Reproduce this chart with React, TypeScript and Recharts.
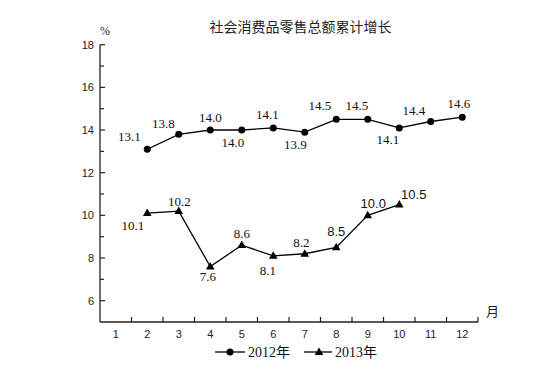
// 社会消费品零售总额累计增长 - line chart, 2012 vs 2013

import { LineChart, Line, XAxis, YAxis } from 'recharts';

const months = [1, 2, 3, 4, 5, 6, 7, 8, 9, 10, 11, 12];
// values per month, null where there is no point
const values2012 = [null, 13.1, 13.8, 14.0, 14.0, 14.1, 13.9, 14.5, 14.5, 14.1, 14.4, 14.6];
const values2013 = [null, 10.1, 10.2, 7.6, 8.6, 8.1, 8.2, 8.5, 10.0, 10.5, null, null];
const yTicks = [5, 6, 7, 8, 9, 10, 11, 12, 13, 14, 15, 16, 17, 18];
const yLabels = [6, 8, 10, 12, 14, 16, 18];

const title = '社会消费品零售总额累计增长';
const seriesNames = ['2012年', '2013年'];

// label placement offsets (dx, dy) per month, styling only
const offsets2012: Array<[number, number]> = [
  [0, 0], [-18, -13], [-15.5, -11], [0, -13], [-9, 12.5], [-6, -13],
  [-9.5, 12.5], [-16.5, -13.5], [-11, -13.5], [-11.5, 12], [-17, -11], [-3.5, -13.5],
];
const offsets2013: Array<[number, number]> = [
  [0, 0], [-14.5, 12], [0.5, -10], [-2.5, 9.5], [0, -12], [-5.5, 14.5],
  [-3.5, -11], [0, -15.5], [5.5, -11.5], [14.5, -10], [0, 0], [0, 0],
];
const sansLabels2013 = [7, 8, 9];

const data = months.map((m, i) => ({ month: m, y2012: values2012[i], y2013: values2013[i] }));
const xTicks = months.flatMap(m => [m, m + 0.5]);

const SERIF = '"Liberation Serif", "Noto Sans CJK SC", serif';
const SANS = '"Liberation Sans", Arial, sans-serif';

function YTick(props: any) {
  const { x, y, payload } = props;
  const v = payload.value;
  if (v === 5) return <g />;
  const major = yLabels.includes(v);
  return (
    <g>
      <line x1={x} x2={x + (major ? 5 : 4)} y1={y} y2={y} stroke="#222" strokeWidth={1.2} />
      {major && (
        <text x={x - 6} y={y} textAnchor="end" dominantBaseline="central" fontSize={11} fontFamily={SANS} fill="#222">
          {v}
        </text>
      )}
    </g>
  );
}

function XTick(props: any) {
  const { x, y, payload } = props;
  const v = payload.value;
  if (Number.isInteger(v)) {
    return (
      <text x={x} y={y + 12} textAnchor="middle" dominantBaseline="central" fontSize={11} fontFamily={SANS} fill="#222">
        {v}
      </text>
    );
  }
  return <line x1={x} x2={x} y1={y} y2={y - 5} stroke="#222" strokeWidth={1.2} />;
}

function CircleDot(props: any) {
  const { cx, cy, index } = props;
  if (cx == null || cy == null || values2012[index] == null) return <g key={`c${index}`} />;
  return <circle key={`c${index}`} cx={cx} cy={cy} r={3.5} fill="#000" />;
}

function TriangleDot(props: any) {
  const { cx, cy, index } = props;
  if (cx == null || cy == null || values2013[index] == null) return <g key={`t${index}`} />;
  return (
    <path
      key={`t${index}`}
      d={`M${cx},${cy - 4.6} L${cx - 4.3},${cy + 2.9} L${cx + 4.3},${cy + 2.9} Z`}
      fill="#000"
    />
  );
}

function makeLabel(offsets: Array<[number, number]>, sans: number[]) {
  return (props: any) => {
    const { x, y, value, index } = props;
    if (value == null || x == null || y == null) return <g />;
    const [dx, dy] = offsets[index];
    const isSans = sans.includes(index);
    return (
      <text
        x={x + dx}
        y={y + dy}
        textAnchor="middle"
        dominantBaseline="central"
        fontSize={13}
        fontFamily={isSans ? SANS : SERIF}
        fill="#111"
      >
        {Number(value).toFixed(1)}
      </text>
    );
  };
}

function LegendBox() {
  return (
    <svg width={554} height={24}>
      <g transform="translate(0,12)">
        <line x1={215} x2={245} y1={0} y2={0} stroke="#000" strokeWidth={1.3} />
        <circle cx={230} cy={0} r={3.5} fill="#000" />
        <text x={248} y={0} dominantBaseline="central" fontSize={14} fontFamily={SERIF} fill="#111">
          {seriesNames[0]}
        </text>
        <line x1={304} x2={332} y1={0} y2={0} stroke="#000" strokeWidth={1.3} />
        <path d="M319,-4.6 L314.7,2.9 L323.3,2.9 Z" fill="#000" />
        <text x={335} y={0} dominantBaseline="central" fontSize={14} fontFamily={SERIF} fill="#111">
          {seriesNames[1]}
        </text>
      </g>
    </svg>
  );
}

export default function App() {
  return (
    <div style={{ position: 'absolute', left: 0, top: 0, width: 554, height: 386, background: '#fff' }}>
      <LineChart width={554} height={386} data={data} margin={{ top: 44.7, right: 76, left: 0, bottom: 0 }}>
        <XAxis
          dataKey="month"
          type="number"
          domain={[0.5, 12.5]}
          ticks={xTicks}
          interval={0}
          height={64}
          tickLine={false}
          tickSize={0}
          tickMargin={0}
          tick={<XTick />}
          axisLine={{ stroke: '#222', strokeWidth: 1.3 }}
          allowDataOverflow
        />
        <YAxis
          type="number"
          domain={[5, 18]}
          ticks={yTicks}
          interval={0}
          width={100}
          tickLine={false}
          tickSize={0}
          tickMargin={0}
          tick={<YTick />}
          axisLine={{ stroke: '#222', strokeWidth: 1.3 }}
          allowDataOverflow
        />
        <Line
          dataKey="y2012"
          type="linear"
          stroke="#000"
          strokeWidth={1.3}
          dot={CircleDot}
          activeDot={false}
          label={makeLabel(offsets2012, [])}
          isAnimationActive={false}
        />
        <Line
          dataKey="y2013"
          type="linear"
          stroke="#000"
          strokeWidth={1.3}
          dot={TriangleDot}
          activeDot={false}
          label={makeLabel(offsets2013, sansLabels2013)}
          isAnimationActive={false}
        />
      </LineChart>
      <div style={{ position: 'absolute', left: 0, top: 340 }}>
        <LegendBox />
      </div>
      <div style={{ position: 'absolute', left: 0, top: 19, width: 601, textAlign: 'center', fontFamily: SERIF, fontSize: 14, color: '#222', lineHeight: '18px' }}>
        {title}
      </div>
      <div style={{ position: 'absolute', left: 100, top: 23, fontFamily: SERIF, fontSize: 12, color: '#222', lineHeight: '16px' }}>
        %
      </div>
      <div style={{ position: 'absolute', left: 486, top: 303, fontFamily: SERIF, fontSize: 13, color: '#222', lineHeight: '17px' }}>
        月
      </div>
    </div>
  );
}
